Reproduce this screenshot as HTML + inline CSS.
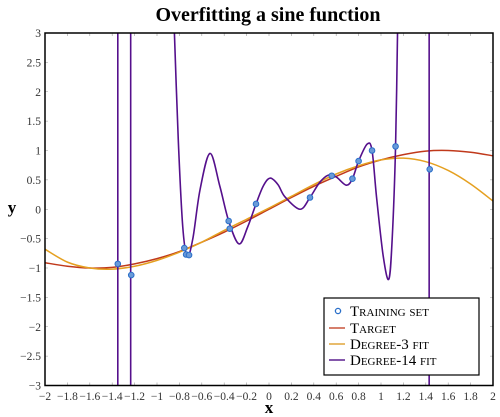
<!DOCTYPE html>
<html><head><meta charset="utf-8"><style>
body{margin:0;background:#fff;}
svg{display:block;font-family:"Liberation Serif",serif;}
</style></head><body>
<svg id="chart" width="500" height="417" viewBox="0 0 500 417">
<defs><clipPath id="plotclip"><rect x="45" y="33" width="448" height="352.5"/></clipPath></defs>
<text x="268" y="21" text-anchor="middle" font-size="20" font-weight="bold">Overfitting a sine function</text>
<g id="axes"></g>
<g id="series" clip-path="url(#plotclip)"></g>
<rect x="45" y="33" width="448" height="352.5" fill="none" stroke="#000" stroke-width="1.5"/>
<text x="269" y="413" text-anchor="middle" font-size="17" font-weight="bold">x</text>
<text x="12" y="213" text-anchor="middle" font-size="17" font-weight="bold">y</text>
<g>
<rect x="324" y="298" width="155" height="77" fill="#fff" stroke="#000" stroke-width="1.2"/>
<g><circle cx="338" cy="311" r="2.6" fill="none" stroke="#2a6fc9" stroke-width="1.3"/><text x="350" y="316" font-size="15" style="font-variant:small-caps">Training set</text></g>
<g><line x1="329" y1="328" x2="345" y2="328" stroke="#c8543a" stroke-width="1.5"/><text x="350" y="333" font-size="15" style="font-variant:small-caps">Target</text></g>
<g><line x1="329" y1="344" x2="345" y2="344" stroke="#e0a53a" stroke-width="1.5"/><text x="350" y="349" font-size="15" style="font-variant:small-caps">Degree-3 fit</text></g>
<g><line x1="329" y1="360" x2="345" y2="360" stroke="#5b1f8f" stroke-width="1.5"/><text x="350" y="365" font-size="15" style="font-variant:small-caps">Degree-14 fit</text></g>
</g>
</svg>
<script>
const xTicks=[-2,-1.8,-1.6,-1.4,-1.2,-1,-0.8,-0.6,-0.4,-0.2,0,0.2,0.4,0.6,0.8,1,1.2,1.4,1.6,1.8,2];
const yTicks=[-3,-2.5,-2,-1.5,-1,-0.5,0,0.5,1,1.5,2,2.5,3];
const trainX=[-1.35,-1.23,-0.756,-0.74,-0.714,-0.36,-0.35,-0.116,0.366,0.56,0.745,0.8,0.92,1.13,1.435];
const trainY=[-0.93,-1.12,-0.66,-0.77,-0.78,-0.2,-0.33,0.09,0.2,0.57,0.52,0.82,1.0,1.07,0.68];
const targetX=[-2,-1.8,-1.6,-1.4,-1.2,-1,-0.8,-0.6,-0.4,-0.2,0,0.2,0.4,0.6,0.8,1,1.2,1.4,1.6,1.8,2];
const targetY=[-0.91,-0.97,-1.0,-0.99,-0.93,-0.84,-0.72,-0.56,-0.39,-0.2,0,0.2,0.39,0.56,0.72,0.84,0.93,0.99,1.0,0.97,0.91];
const deg3X=[-2,-1.8,-1.6,-1.4,-1.2,-1,-0.8,-0.6,-0.4,-0.2,0,0.2,0.4,0.6,0.8,1,1.2,1.4,1.6,1.8,2];
const deg3Y=[-0.68,-0.9,-1.0,-1.02,-0.97,-0.87,-0.73,-0.56,-0.36,-0.17,0.02,0.22,0.42,0.6,0.74,0.84,0.87,0.81,0.66,0.43,0.14];
const deg14X=[-0.85,-0.81,-0.77,-0.73,-0.68,-0.616,-0.527,-0.44,-0.36,-0.268,-0.19,-0.116,-0.05,0.01,0.08,0.143,0.277,0.366,0.45,0.53,0.6,0.69,0.745,0.8,0.877,0.92,0.96,1.02,1.07,1.1,1.13,1.15];
const deg14Y=[3.3,1.18,-0.3,-0.8,-0.5,0.33,0.95,0.4,-0.2,-0.59,-0.3,0.09,0.4,0.53,0.42,0.21,0,0.2,0.45,0.58,0.55,0.41,0.52,0.82,1.11,1.0,0.21,-0.8,-1.19,-0.5,1.07,3.3];
const deg14Vertical=[-1.35,-1.235,1.43];

const X=v=>45+(v+2)*112, Y=v=>209.25-v*58.75;
const NS='http://www.w3.org/2000/svg';
const axes=document.getElementById('axes'), ser=document.getElementById('series');
function mk(tag,attrs,parent){const e=document.createElementNS(NS,tag);for(const k in attrs)e.setAttribute(k,attrs[k]);parent.appendChild(e);return e;}
function fmt(v){return (v<0?'\u2212':'')+String(Math.abs(Math.round(v*10)/10));}
xTicks.forEach(t=>{
  const l=mk('path',{d:`M${X(t)},385.5v-3M${X(t)},33v3`,stroke:'#999','stroke-width':0.6},axes);
  
  
  const tx=mk('text',{x:X(t),y:400,'text-anchor':'middle','font-size':11.5,fill:'#333'},axes);
  tx.textContent=fmt(t);
  
  
});
yTicks.forEach(t=>{
  const l=mk('path',{d:`M45,${Y(t)}h3M493,${Y(t)}h-3`,stroke:'#999','stroke-width':0.6},axes);
  
  
  const tx=mk('text',{x:41,y:Y(t)+4,'text-anchor':'end','font-size':11.5,fill:'#333'},axes);
  tx.textContent=fmt(t);
  
  
});
function smooth(xs,ys){
  const p=xs.map((x,i)=>[X(x),Y(ys[i])]);
  let d=`M${p[0][0]},${p[0][1]}`;
  for(let i=0;i<p.length-1;i++){
    const p0=p[i-1]||p[i],p1=p[i],p2=p[i+1],p3=p[i+2]||p2;
    const c1=[p1[0]+(p2[0]-p0[0])/6,p1[1]+(p2[1]-p0[1])/6];
    const c2=[p2[0]-(p3[0]-p1[0])/6,p2[1]-(p3[1]-p1[1])/6];
    d+=`C${c1[0]},${c1[1]} ${c2[0]},${c2[1]} ${p2[0]},${p2[1]}`;
  }
  return d;
}
let e=mk('path',{d:smooth(targetX,targetY),fill:'none',stroke:'#c0391b','stroke-width':1.5},ser);


e=mk('path',{d:smooth(deg3X,deg3Y),fill:'none',stroke:'#e5a020','stroke-width':1.5},ser);


e=mk('path',{d:smooth(deg14X,deg14Y),fill:'none',stroke:'#55108c','stroke-width':1.6},ser);


deg14Vertical.forEach(v=>{
  const l=mk('line',{x1:X(v),x2:X(v),y1:30,y2:390,stroke:'#55108c','stroke-width':1.6},ser);
  
  
});
trainX.forEach((x,i)=>{
  const c=mk('circle',{cx:X(x),cy:Y(trainY[i]),r:2.8,fill:'#6a9ad8',stroke:'#2a6fc9','stroke-width':1},ser);
  
  
});
</script>
</body></html>
